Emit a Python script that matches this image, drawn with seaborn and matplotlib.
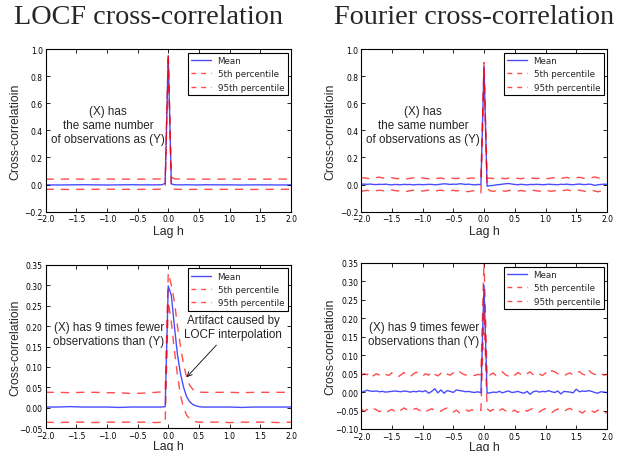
import numpy as np
import pandas as pd
import matplotlib
matplotlib.use("Agg")
import matplotlib.pyplot as plt
import seaborn as sns

# ---------------- data ----------------
lags_locf = [-2.0, -1.8, -1.6, -1.4, -1.2, -1.0, -0.8, -0.6, -0.4, -0.2, -0.1, -0.05,
             0.0, 0.05, 0.1, 0.15, 0.2, 0.25, 0.3, 0.35, 0.4, 0.45, 0.5, 0.55, 0.6,
             0.8, 1.0, 1.2, 1.4, 1.6, 1.8, 2.0]

locf_top_mean = [-0.002, -0.003, -0.002, -0.001, -0.002, -0.003, -0.002, -0.001, -0.002, -0.002, -0.001, 0.01,
                 0.95, 0.005, -0.001, -0.002, -0.002, -0.002, -0.001, -0.002, -0.002, -0.003, -0.002, -0.002, -0.001,
                 -0.002, -0.002, -0.003, -0.002, -0.002, -0.003, -0.002]
locf_top_p5 = [-0.035, -0.035, -0.036, -0.035, -0.035, -0.034, -0.035, -0.035, -0.035, -0.035, -0.034, -0.025,
               0.93, -0.028, -0.034, -0.035, -0.035, -0.035, -0.035, -0.036, -0.035, -0.035, -0.035, -0.035, -0.035,
               -0.035, -0.035, -0.035, -0.036, -0.035, -0.035, -0.035]
locf_top_p95 = [0.04, 0.04, 0.041, 0.04, 0.04, 0.041, 0.04, 0.04, 0.04, 0.041, 0.042, 0.05,
                0.96, 0.055, 0.043, 0.041, 0.04, 0.04, 0.041, 0.04, 0.04, 0.04, 0.041, 0.04, 0.04,
                0.04, 0.041, 0.04, 0.04, 0.04, 0.041, 0.04]

locf_bot_mean = [0.002, 0.002, 0.003, 0.002, 0.002, 0.002, 0.001, 0.002, 0.002, 0.002, 0.002, 0.003,
                 0.298, 0.275, 0.2, 0.13, 0.083, 0.05, 0.027, 0.015, 0.008, 0.005, 0.003, 0.002, 0.002,
                 0.002, 0.002, 0.001, 0.002, 0.002, 0.002, 0.002]
locf_bot_p5 = [-0.035, -0.036, -0.035, -0.035, -0.036, -0.035, -0.035, -0.035, -0.035, -0.036, -0.035, -0.035,
               0.26, 0.21, 0.14, 0.08, 0.03, 0.0, -0.018, -0.027, -0.032, -0.034, -0.035, -0.035, -0.035,
               -0.035, -0.036, -0.035, -0.035, -0.035, -0.036, -0.035]
locf_bot_p95 = [0.038, 0.038, 0.037, 0.038, 0.038, 0.037, 0.037, 0.035, 0.036, 0.038, 0.039, 0.039,
                0.33, 0.3, 0.26, 0.2, 0.15, 0.105, 0.075, 0.055, 0.045, 0.04, 0.039, 0.038, 0.038,
                0.038, 0.038, 0.037, 0.038, 0.038, 0.038, 0.038]

lags_fourier = np.round(np.linspace(-2.0, 2.0, 81), 2)

fourier_top_mean = [0.004, 0.003, 0.002, 0.004, 0.001, 0.0, 0.002, 0.001, 0.003, 0.0, -0.002, 0.001, 0.0, -0.001,
                    0.002, 0.0, 0.001, -0.002, 0.0, 0.001, -0.001, 0.0, 0.002, 0.001, -0.001, 0.0, 0.003, 0.006,
                    0.004, 0.001, 0.003, 0.002, 0.006, 0.005, 0.001, 0.003, 0.0, -0.002, 0.001, 0.0,
                    0.87,
                    -0.012, -0.008, -0.006, -0.002, 0.0, 0.003, 0.006, 0.008, 0.004, 0.001, -0.001, 0.002, 0.0,
                    -0.002, 0.001, 0.0, 0.002, 0.001, -0.001, 0.0, 0.003, 0.001, 0.0, -0.001, 0.002, 0.001, 0.003,
                    0.0, -0.001, 0.002, 0.004, 0.001, 0.0, 0.003, 0.001, -0.006, -0.002, 0.001, 0.003, 0.002]
fourier_top_p5 = [-0.05, -0.046, -0.042, -0.047, -0.051, -0.045, -0.041, -0.044, -0.048, -0.043, -0.039, -0.044,
                  -0.047, -0.042, -0.046, -0.05, -0.045, -0.041, -0.046, -0.043, -0.048, -0.044, -0.04, -0.045,
                  -0.049, -0.044, -0.041, -0.046, -0.05, -0.045, -0.042, -0.047, -0.043, -0.046, -0.05, -0.052,
                  -0.047, -0.044, -0.05, -0.062,
                  0.85,
                  -0.03, -0.046, -0.05, -0.045, -0.041, -0.046, -0.049, -0.044, -0.04, -0.045, -0.048, -0.043,
                  -0.047, -0.051, -0.046, -0.042, -0.045, -0.049, -0.044, -0.04, -0.046, -0.05, -0.045, -0.042,
                  -0.047, -0.043, -0.039, -0.044, -0.048, -0.045, -0.041, -0.046, -0.05, -0.044, -0.042, -0.047,
                  -0.053, -0.048, -0.045, -0.052]
fourier_top_p95 = [0.048, 0.05, 0.046, 0.043, 0.047, 0.052, 0.055, 0.049, 0.045, 0.047, 0.051, 0.046, 0.043, 0.048,
                   0.045, 0.042, 0.046, 0.05, 0.047, 0.044, 0.049, 0.045, 0.043, 0.047, 0.044, 0.046, 0.048, 0.043,
                   0.047, 0.05, 0.046, 0.044, 0.048, 0.051, 0.047, 0.045, 0.049, 0.046, 0.05, 0.052,
                   0.90,
                   0.045, 0.048, 0.044, 0.047, 0.05, 0.046, 0.043, 0.048, 0.045, 0.049, 0.046, 0.043, 0.047, 0.05,
                   0.045, 0.048, 0.044, 0.047, 0.051, 0.046, 0.044, 0.049, 0.052, 0.047, 0.045, 0.05, 0.053, 0.048,
                   0.046, 0.05, 0.054, 0.049, 0.045, 0.048, 0.052, 0.056, 0.05, 0.047, 0.051, 0.049]

fourier_bot_mean = [0.0, 0.002, 0.005, 0.003, 0.002, 0.003, 0.001, 0.002, 0.0, 0.001, 0.002, 0.003, 0.002, 0.001,
                    0.003, 0.002, 0.0, 0.002, 0.001, 0.003, 0.001, 0.004, -0.003, 0.002, 0.009, -0.002, 0.006,
                    -0.003, 0.004, 0.002, -0.001, 0.006, 0.004, 0.003, 0.001, 0.002, 0.0, -0.001, 0.001, -0.002,
                    0.29,
                    -0.003, -0.002, 0.0, -0.001, 0.002, -0.002, 0.001, 0.003, -0.001, 0.0, 0.002, -0.001, -0.003,
                    0.002, -0.006, 0.001, 0.003, 0.0, 0.002, 0.001, 0.004, 0.001, -0.001, 0.003, -0.005, 0.002,
                    0.001, 0.0, -0.002, 0.008, 0.001, 0.003, 0.002, 0.004, 0.002, -0.001, -0.003, 0.001, 0.0, -0.001]
fourier_bot_p5 = [-0.045, -0.052, -0.047, -0.05, -0.044, -0.048, -0.053, -0.049, -0.055, -0.051, -0.047, -0.052,
                  -0.045, -0.049, -0.043, -0.048, -0.052, -0.047, -0.044, -0.05, -0.046, -0.053, -0.049, -0.045,
                  -0.05, -0.047, -0.052, -0.046, -0.043, -0.048, -0.054, -0.049, -0.056, -0.051, -0.047, -0.052,
                  -0.048, -0.05, -0.047, -0.05,
                  0.22,
                  -0.045, -0.052, -0.047, -0.055, -0.05, -0.045, -0.051, -0.047, -0.053, -0.049, -0.055, -0.05,
                  -0.046, -0.052, -0.047, -0.044, -0.05, -0.054, -0.048, -0.045, -0.051, -0.056, -0.05, -0.046,
                  -0.049, -0.053, -0.047, -0.044, -0.05, -0.048, -0.052, -0.057, -0.05, -0.046, -0.051, -0.055,
                  -0.049, -0.053, -0.058, -0.054]
fourier_bot_p95 = [0.045, 0.05, 0.047, 0.055, 0.044, 0.05, 0.046, 0.042, 0.048, 0.045, 0.052, 0.047, 0.041, 0.047,
                   0.053, 0.045, 0.042, 0.049, 0.054, 0.047, 0.043, 0.05, 0.046, 0.056, 0.048, 0.044, 0.051, 0.057,
                   0.049, 0.046, 0.052, 0.047, 0.055, 0.05, 0.046, 0.049, 0.047, 0.045, 0.048, 0.047,
                   0.36,
                   0.04, 0.047, 0.052, 0.044, 0.049, 0.055, 0.047, 0.043, 0.05, 0.046, 0.053, 0.048, 0.044, 0.05,
                   0.055, 0.047, 0.043, 0.049, 0.045, 0.052, 0.047, 0.058, 0.055, 0.05, 0.047, 0.044, 0.049, 0.052,
                   0.046, 0.05, 0.056, 0.049, 0.046, 0.06, 0.052, 0.048, 0.044, 0.05, 0.046, 0.048]

series_labels = ["Mean", "5th percentile", "95th percentile"]
titles = ["LOCF cross-correlation", "Fourier cross-correlation"]
ylabel = "Cross-correlatioin"
xlabel = "Lag h"
note_same = "(X) has\nthe same number\nof observations as (Y)"
note_fewer = "(X) has 9 times fewer\nobservations than (Y)"
note_artifact = "Artifact caused by\nLOCF interpolation"

# ---------------- style ----------------
sns.set_style("ticks", {"xtick.direction": "in", "ytick.direction": "in",
                        "axes.edgecolor": "black", "xtick.color": "black", "ytick.color": "black"})
plt.rcParams["font.family"] = ["DejaVu Sans"]
plt.rcParams["axes.unicode_minus"] = True

fig = plt.figure(figsize=(6.18, 4.52), dpi=100)
W, H = 618, 452
def axes_px(l, t, r, b):
    return fig.add_axes([l / W, 1 - b / H, (r - l) / W, (b - t) / H])

ax_tl = axes_px(45.5, 50, 291, 212.7)
ax_tr = axes_px(361, 50, 607, 212.7)
ax_bl = axes_px(45.5, 265.7, 291, 429.3)
ax_br = axes_px(361, 264, 607, 430)

label_font = dict(family=["Liberation Sans", "DejaVu Sans"], size=8.8)

def draw(ax, lags, mean, p5, p95, ylim, yticks, xlab_y):
    df = pd.DataFrame({"lag": lags, "mean": mean, "p5": p5, "p95": p95})
    sns.lineplot(data=df, x="lag", y="mean", ax=ax, color="blue", lw=1.0, alpha=0.7,
                 label=series_labels[0])
    sns.lineplot(data=df, x="lag", y="p5", ax=ax, color="red", lw=1.0, alpha=0.7,
                 label=series_labels[1]).lines[-1].set_dashes((6, 5))
    sns.lineplot(data=df, x="lag", y="p95", ax=ax, color="red", lw=1.0, alpha=0.7,
                 label=series_labels[2]).lines[-1].set_dashes((6, 5))
    ax.set_xlim(-2, 2)
    ax.set_ylim(*ylim)
    ax.set_xticks(np.arange(-2, 2.01, 0.5))
    ax.set_yticks(yticks)
    ax.tick_params(top=True, right=True, labelsize=5.5, length=3, width=0.6, pad=2)
    for s in ax.spines.values():
        s.set_linewidth(0.8)
    ax.set_xlabel(xlabel, fontdict=label_font)
    ax.set_ylabel(ylabel, fontdict=label_font)
    ax.xaxis.set_label_coords(0.5, xlab_y)
    ax.yaxis.set_label_coords(-0.099, 0.5)
    leg = ax.legend(loc="upper right", fontsize=6.3, fancybox=False, framealpha=1,
                    edgecolor="black", handlelength=2.2, borderaxespad=0.4)
    leg.get_frame().set_linewidth(0.8)
    for h in leg.get_lines()[1:]:
        h.set_dashes((3.5, 3.5))

draw(ax_tl, lags_locf, locf_top_mean, locf_top_p5, locf_top_p95, (-0.2, 1.0), np.arange(-0.2, 1.01, 0.2), -0.082)
draw(ax_tr, lags_fourier, fourier_top_mean, fourier_top_p5, fourier_top_p95, (-0.2, 1.0), np.arange(-0.2, 1.01, 0.2), -0.082)
draw(ax_bl, lags_locf, locf_bot_mean, locf_bot_p5, locf_bot_p95, (-0.05, 0.35), np.arange(-0.05, 0.351, 0.05), -0.072)
draw(ax_br, lags_fourier, fourier_bot_mean, fourier_bot_p5, fourier_bot_p95, (-0.10, 0.35), np.arange(-0.10, 0.351, 0.05), -0.072)

note_font = dict(family=["Liberation Sans", "DejaVu Sans"], size=8.4)
ax_tl.text(-0.98, 0.44, note_same, ha="center", va="center", linespacing=1.2, **note_font)
ax_tr.text(-0.99, 0.44, note_same, ha="center", va="center", linespacing=1.2, **note_font)
ax_bl.text(-0.97, 0.18, note_fewer, ha="center", va="center", linespacing=1.2, **note_font)
ax_br.text(-0.98, 0.158, note_fewer, ha="center", va="center", linespacing=1.2, **note_font)
ax_bl.annotate(note_artifact, xy=(0.3, 0.075), xytext=(1.06, 0.198), ha="center", va="center",
               linespacing=1.2, **note_font,
               arrowprops=dict(arrowstyle="->", color="black", lw=0.6, shrinkA=2, shrinkB=0))

title_font = dict(family=["Liberation Serif", "DejaVu Serif"], size=20.3)
fig.text(148 / W, 1 - 17 / H, titles[0], ha="center", va="center", **title_font)
fig.text(474.5 / W, 1 - 17 / H, titles[1], ha="center", va="center", **title_font)

fig.savefig("out.png", dpi=100)
